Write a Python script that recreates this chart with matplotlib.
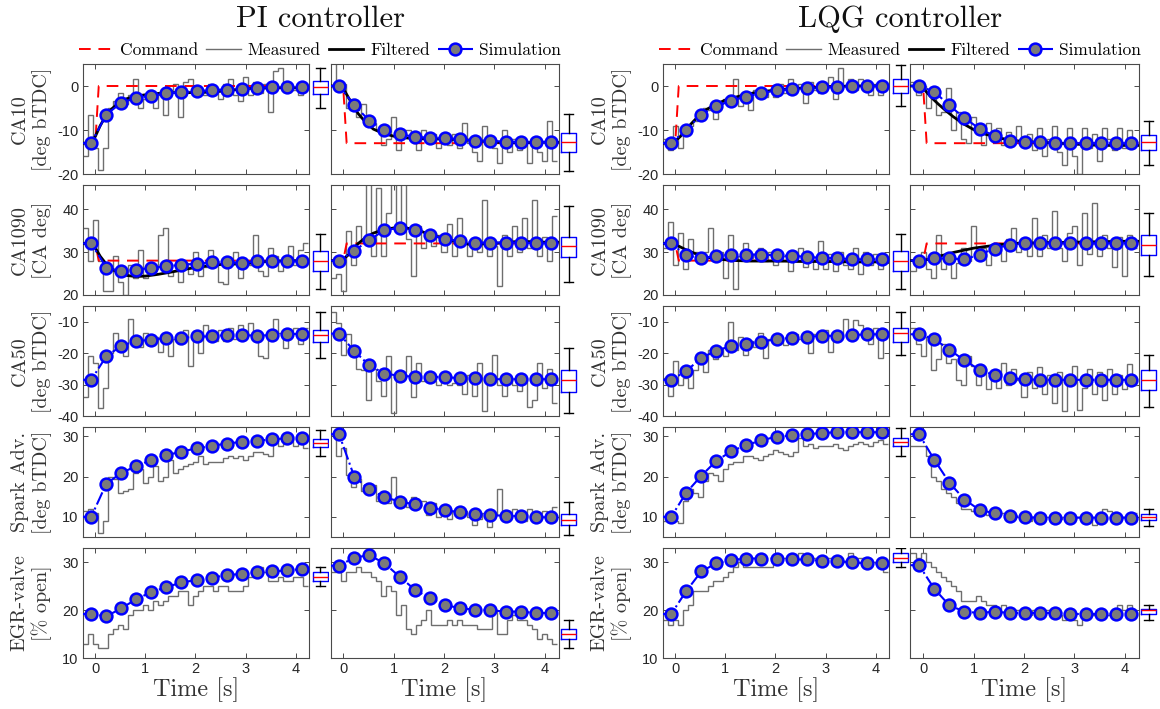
import numpy as np
import matplotlib
matplotlib.use('Agg')
import matplotlib.pyplot as plt
from matplotlib.lines import Line2D

# ---------------- data ----------------
t_sim = [-0.08, 0.22, 0.52, 0.82, 1.12, 1.42, 1.72, 2.02, 2.32, 2.62, 2.92, 3.22, 3.52, 3.82, 4.12]
t_filt = [-0.25, -0.1, 0.0, 0.1, 0.2, 0.3, 0.45, 0.6, 0.8, 1.0, 1.25, 1.5, 1.8, 2.1, 2.5, 3.0, 3.5, 4.0, 4.27]
t_cmd = [-0.25, 0.0, 0.07, 4.27]
meas_t0 = -0.25
meas_dt = 0.1

row_labels = ['CA10\n[deg bTDC]', 'CA1090\n[CA deg]', 'CA50\n[deg bTDC]',
              'Spark Adv.\n[deg bTDC]', 'EGR-valve\n[% open]']
row_ylims = [(-20, 5), (20, 45.6), (-40, -5), (5, 32.3), (10, 33)]
row_yticks = [[-20, -10, 0], [20, 30, 40], [-40, -30, -20, -10], [10, 20, 30], [10, 20, 30]]
x_ticks = [0, 1, 2, 3, 4]
controllers = ['PI controller', 'LQG controller']

cmd_ca10_a = [-13, -13, 0, 0]
cmd_ca10_b = [0, 0, -13, -13]
cmd_ca1090_a = [32, 32, 28, 28]
cmd_ca1090_b = [28, 28, 32, 32]

# ---- PI, CA10 ----
m_pi_ca10_a = [-16, -6.5, -14, -19, -14, -5, -3.5, -1.5, -4, -2, 1.5, -5, -3, -1, -5, -2, -6.5, -1, 0.5, -7,
               1, 1.5, -2, -1.5, -2, 0.5, -1, -3, 0.5, 1.5, -2, -3.5, 2, -2, 1, -1.5, 0.5, -6, 3.5, 4,
               0, -1, -1, -2, 0]
s_pi_ca10_a = [-13, -6.5, -3.8, -2.7, -2.2, -1.7, -1.4, -1.2, -0.9, -0.8, -0.6, -0.5, -0.2, -0.2, -0.2]
f_pi_ca10_a = [-13, -13, -11.5, -9, -7, -5.5, -4, -3, -2.3, -2, -1.7, -1.5, -1.5, -1.5, -1.2, -0.6, -0.4, -0.4, -0.4]
b_pi_ca10_a = [-4.9, -1.9, -0.3, 1.2, 4.0]

m_pi_ca10_b = [6, 0, 0.5, -5, -3, -7, -4, -7, -8.5, -10, -13.5, -12, -7, -14.5, -10, -10, -12, -14.5, -10, -12,
               -11, -14, -12, -13.5, -11, -14, -8.5, -13, -15, -17, -9, -13, -14, -17.5, -10, -15, -12, -14.5,
               -12.5, -17.5, -12, -15, -17, -8, -17]
s_pi_ca10_b = [0, -4.3, -7.9, -10.0, -11.0, -11.5, -11.8, -11.8, -12.1, -12.4, -12.4, -12.7, -12.7, -12.7, -12.7]
f_pi_ca10_b = [0, 0, -0.5, -2.5, -4.5, -6.3, -8.3, -9.8, -10.8, -11.4, -11.8, -12.0, -12.0, -12.1, -12.3, -12.8, -12.9, -12.8, -12.8]
b_pi_ca10_b = [-19.3, -15.1, -12.8, -10.6, -6.3]

# ---- PI, CA1090 ----
m_pi_ca1090_a = [35.5, 28, 37.5, 28, 21, 21, 29, 23, 20, 27, 24, 30.5, 24, 26, 26, 34, 35.5, 24.5, 25.5, 23,
                 27.5, 25, 30, 24.5, 26.5, 30.5, 27, 23, 22.5, 27, 30, 24, 28, 27, 34, 25.5, 24.5, 31, 29, 25.5,
                 28, 31.5, 27, 30.5, 32]
s_pi_ca1090_a = [32, 26.4, 25.5, 25.9, 26.3, 26.7, 27.0, 27.3, 27.6, 27.6, 27.5, 27.8, 27.8, 27.8, 27.8]
f_pi_ca1090_a = [32, 32, 31, 29, 27.5, 26.3, 25.2, 24.6, 24.3, 24.4, 24.8, 25.3, 26.0, 26.6, 27.1, 27.3, 27.9, 28.0, 28.0]
b_pi_ca1090_a = [21.5, 25.7, 28.0, 30.3, 34.2]

m_pi_ca1090_b = [24, 25, 21, 35, 27, 36, 32.5, 47, 29, 45, 29, 39, 47, 36, 47, 33, 24.5, 36, 31, 33,
                 31.5, 34, 30, 36.5, 29, 38, 32, 29, 33, 30, 42, 29, 31.5, 22, 34, 29, 36, 30, 38, 31,
                 42, 29, 33.5, 28, 38.5]
s_pi_ca1090_b = [28, 30.3, 32.8, 35.1, 35.6, 35.1, 34.0, 33.1, 32.5, 32.2, 32.2, 32.2, 32.2, 32.0, 32.0]
f_pi_ca1090_b = [28, 28, 28.3, 29.3, 30.7, 32.0, 33.4, 34.4, 35.2, 35.6, 35.6, 35.0, 33.8, 32.8, 31.8, 32.0, 32.5, 32.3, 32.3]
b_pi_ca1090_b = [23.0, 28.8, 31.3, 33.5, 40.7]

# ---- PI, CA50 ----
m_pi_ca50_a = [-34, -21, -23, -37.5, -31, -20, -13.5, -19, -21, -9, -16, -18, -13.5, -17.5, -15, -19.5, -14.5,
               -21, -15.5, -17, -12.5, -24, -13, -20, -11, -15.5, -16, -12.5, -16, -12, -15.5, -11, -14, -10.5,
               -15.5, -21, -21.5, -14, -9, -13.5, -18.5, -13, -12, -17, -12]
s_pi_ca50_a = [-28.5, -21.0, -17.7, -16.1, -15.8, -15.1, -15.2, -14.7, -14.7, -14.2, -14.3, -14.4, -14.3, -13.9, -13.9]
b_pi_ca50_a = [-21.5, -16.5, -14.2, -12.5, -7.0]

m_pi_ca50_b = [-7, -10.5, -20.5, -14, -20, -25, -25.5, -35, -25, -29, -33.5, -21, -39, -29, -26, -21, -34, -23,
               -29, -27, -29, -30, -27.5, -30, -29.5, -30, -33, -27, -33.5, -23, -38.5, -27, -20.5, -30, -33.5,
               -28, -30, -32, -28, -37, -35, -23, -31, -25, -36]
s_pi_ca50_b = [-13.8, -19.3, -23.9, -26.5, -27.2, -27.5, -27.6, -27.6, -28.0, -28.0, -28.3, -28.3, -28.3, -28.3, -28.3]
b_pi_ca50_b = [-39.0, -32.3, -28.7, -25.5, -18.4]

# ---- PI, Spark ----
m_pi_sa_a = [11.5, 12, 11, 6, 9, 20, 19.5, 16, 16.5, 17, 21, 22, 18.5, 20, 22.5, 19, 20, 24, 21, 22,
             22.5, 23, 23.5, 25, 23, 23.5, 23.5, 23.5, 24.5, 25, 24.5, 25, 24, 25, 26, 26, 25.5, 25, 29, 27.5,
             28, 30, 27.5, 28, 27]
s_pi_sa_a = [10, 18.2, 20.9, 22.6, 24.1, 25.3, 26.2, 27.0, 27.6, 28.2, 28.6, 28.9, 29.2, 29.5, 29.5]
b_pi_sa_a = [25.0, 27.3, 28.3, 29.3, 31.5]

m_pi_sa_b = [30.5, 25, 27, 20.5, 17.5, 19.5, 16.5, 18.5, 18, 14, 16.5, 13.5, 20, 13, 14.5, 12.5, 15, 12.5, 14,
             10.5, 13.5, 10, 12, 9.5, 11.5, 11, 11.5, 10, 8, 9.5, 11, 7.5, 10.5, 17, 10, 11, 12, 9.5, 9, 12,
             11, 11, 11.5, 10.5, 12.5]
s_pi_sa_b = [30.5, 20.0, 16.8, 14.9, 13.8, 13.1, 12.3, 11.7, 11.1, 10.8, 10.5, 10.2, 10.2, 9.9, 9.9]
b_pi_sa_b = [5.5, 8.0, 9.3, 10.7, 13.8]

# ---- PI, EGR ----
m_pi_egr_a = [13, 15, 13, 12, 12, 15, 16, 17, 16, 19, 20, 20, 21, 20, 22, 21, 22, 23, 23, 24,
              24, 21, 23, 24, 25, 25, 24, 25, 25, 24, 24, 24, 25, 27, 27, 29, 28, 26, 26, 27,
              26, 26, 27, 27, 25]
s_pi_egr_a = [19.2, 18.7, 20.4, 22.3, 23.8, 24.8, 25.8, 26.3, 26.8, 27.3, 27.6, 27.9, 28.1, 28.3, 28.6]
b_pi_egr_a = [25, 26, 27, 28, 29]

m_pi_egr_b = [28, 28, 26, 28, 28, 29, 28, 28, 27, 26, 23, 25, 24, 19, 21, 16, 15, 17, 18, 20,
              17, 17, 17, 18, 17, 18, 17, 17, 17, 16, 16, 16, 20, 15, 15, 18, 19, 18, 18, 17,
              16, 14, 15, 14, 13]
s_pi_egr_b = [29.3, 31.0, 31.5, 29.8, 27.0, 24.3, 22.5, 21.1, 20.4, 20.1, 20.0, 19.7, 19.7, 19.4, 19.4]
b_pi_egr_b = [12, 14, 15, 16, 18]

# ---- LQG, CA10 ----
m_lqg_ca10_a = [-12, -14.5, -9, -14, -10, -9, -8, -7.5, -5, -5.5, -7.5, -4, -3, -2, 1.5, -4.5, -3.5, -5.5, -1,
                -1.5, -2.5, -1, -2.5, 0.5, -1.5, 1.5, -1, 0.5, -3.8, 1, -1, -1.5, 0.5, 2, -3, 4, 0, 1.5, -1,
                1.5, 1, -2, 0.5, -2, 0]
s_lqg_ca10_a = [-13, -9.9, -6.5, -4.6, -3.3, -2.4, -1.6, -1.0, -0.7, -0.5, -0.3, -0.3, 0, 0, 0]
f_lqg_ca10_a = [-13, -13, -12.5, -11.5, -10, -8.8, -7, -5.5, -4.2, -3.2, -2.4, -1.7, -1.2, -0.8, -0.5, -0.2, 0, 0, 0]
b_lqg_ca10_a = [-4.6, -1.5, 0.0, 1.6, 4.8]

m_lqg_ca10_b = [1, -2, 0, -5, -1, -6.5, -6, -0.5, -10, -6, -12, -13, -7, -9.5, -13.5, -8.5, -12, -9.5, -13.5,
                -10.5, -12.5, -9, -13, -11, -14.5, -9.5, -16, -12, -9, -15, -18, -9.5, -16, -20, -9.5, -14,
                -11, -17, -9.5, -12, -14.5, -9.5, -14, -10, -13]
s_lqg_ca10_b = [0, -1.3, -4.4, -7.3, -9.7, -11.4, -12.4, -12.7, -12.7, -13, -13, -13, -13, -13, -13]
f_lqg_ca10_b = [0, 0, -0.5, -1.8, -3.0, -4.1, -5.6, -7.0, -8.6, -9.9, -11.0, -11.8, -12.4, -12.7, -12.9, -13.2, -13.5, -13.5, -13.5]
b_lqg_ca10_b = [-18.0, -14.5, -12.8, -11.2, -8.0]

# ---- LQG, CA1090 ----
m_lqg_ca1090_a = [31, 37, 27, 34.5, 26, 33, 30, 27.5, 30, 35.5, 28, 30, 24, 34, 21.5, 29, 32, 28.5, 29.5, 31,
                  28, 30, 27, 28, 29, 25.5, 28, 31, 26.5, 29, 26, 32.5, 26, 29.5, 25.5, 30, 27, 26, 31, 25,
                  30, 27, 29.5, 26, 29]
s_lqg_ca1090_a = [32, 29.2, 28.6, 29.1, 29.4, 29.4, 29.4, 29.2, 29.1, 28.9, 28.6, 28.6, 28.3, 28.3, 28.3]
f_lqg_ca1090_a = [32, 32, 31.7, 31.2, 30.6, 30.1, 29.4, 28.9, 28.4, 28.2, 28.0, 27.9, 27.9, 27.9, 27.8, 27.8, 27.7, 27.7, 27.6]
b_lqg_ca1090_a = [21.5, 25.6, 28.0, 30.2, 34.2]

m_lqg_ca1090_b = [25.5, 28, 30, 26, 24, 34, 26, 28, 24, 27.5, 31, 28, 36, 29, 31, 27, 30, 32, 28, 33,
                  35.5, 30, 32, 29, 38, 29, 34, 31, 39.5, 31, 28, 34.5, 36, 27, 39, 29.5, 41.5, 29, 34, 31,
                  26.5, 33.5, 24.5, 34, 31]
s_lqg_ca1090_b = [28, 28.5, 28.5, 28.3, 29.4, 30.8, 31.7, 32, 32, 32, 32, 32, 32, 32, 32]
f_lqg_ca1090_b = [28, 28, 28, 28.3, 28.7, 29.0, 29.4, 29.9, 30.4, 30.9, 31.3, 31.7, 32.0, 32.1, 32.2, 32.3, 32.4, 32.5, 32.5]
b_lqg_ca1090_b = [24.5, 29.3, 31.6, 34.0, 39.0]

# ---- LQG, CA50 ----
m_lqg_ca50_a = [-28, -33.5, -22.5, -30, -28, -31, -25.5, -22, -26, -19, -22, -18.5, -21, -10, -19, -15, -20.5,
                -16, -18, -13.5, -21.5, -15.5, -16.5, -15.5, -17.5, -16, -14, -15.5, -13.5, -20, -14, -16,
                -12.5, -19.5, -15, -14, -9, -14.5, -9.5, -11, -15.5, -17, -12, -21.5, -14]
s_lqg_ca50_a = [-28.5, -25.7, -21.5, -19.2, -17.7, -17.0, -16.3, -15.6, -15.1, -14.8, -14.5, -14.5, -14.3, -14.0, -14.0]
b_lqg_ca50_a = [-20.7, -16.6, -13.7, -12.0, -7.0]

m_lqg_ca50_b = [-12, -17, -21, -15, -25.5, -22, -17, -23, -22, -28.5, -30, -21, -24, -30, -25, -31.5, -26, -31,
                -23, -30, -25, -28.5, -34, -26, -31, -24.5, -33, -27, -36, -26, -38.5, -29, -24, -38, -31,
                -25, -33, -26, -35, -25, -33, -27, -31.5, -23.5, -30]
s_lqg_ca50_b = [-14, -15.5, -18.9, -22.3, -25.3, -27.1, -28, -28.3, -28.5, -28.5, -28.5, -28.5, -28.5, -28.5, -28.5]
b_lqg_ca50_b = [-37.2, -31.8, -28.5, -25.3, -20.5]

# ---- LQG, Spark ----
m_lqg_sa_a = [9, 11.5, 9, 8.5, 14, 17, 16, 15, 19, 21, 20.5, 19, 22, 23, 23.5, 23.5, 25, 25, 24.5, 24,
              25, 25.5, 26.5, 26, 25.5, 25, 26, 29.5, 27.5, 28, 27, 27.5, 27.5, 27.5, 28, 27, 26.5, 27.5,
              28, 28.5, 28, 27.5, 28.5, 29, 28]
s_lqg_sa_a = [10, 16, 20.2, 23.9, 26.3, 27.8, 29.0, 29.9, 30.2, 30.5, 30.8, 31, 31, 31, 31]
b_lqg_sa_a = [25.0, 27.6, 28.6, 29.5, 32.0]

m_lqg_sa_b = [27.5, 27.5, 27.5, 25, 20, 19, 17, 16, 15, 13.5, 12, 12, 11.5, 11, 11, 10.5, 11, 10.5, 11, 10.5,
              10.5, 10, 11, 9, 10, 10, 10, 10, 10, 9.5, 10, 10.5, 10, 10, 9.5, 10, 8, 10, 12, 11.5,
              9.5, 9.5, 10, 10, 11]
s_lqg_sa_b = [30.5, 24.2, 18.5, 14.3, 11.7, 10.9, 10.2, 9.9, 9.8, 9.8, 9.8, 9.8, 9.8, 9.8, 9.8]
b_lqg_sa_b = [7.8, 9.3, 10.0, 10.7, 12.0]

# ---- LQG, EGR ----
m_lqg_egr_a = [18, 17, 18, 17, 20, 21, 24, 24, 24, 25, 26, 26, 27, 28, 29, 30, 29, 29, 29, 29,
               29, 29, 31, 31, 31, 31, 31, 32, 31, 31, 31, 31, 31, 31, 31, 31, 30, 32, 31, 31,
               31, 30, 30, 31, 28]
s_lqg_egr_a = [19.2, 24.0, 28.1, 29.8, 30.5, 30.8, 30.8, 30.8, 30.6, 30.6, 30.3, 30.3, 30.0, 29.8, 29.8]
b_lqg_egr_a = [29, 30, 31, 32, 33]

m_lqg_egr_b = [32, 31, 32, 30, 29, 28, 27, 26, 25, 24, 22, 22, 22, 23, 22, 21, 21, 20, 21, 20,
               20, 20, 20, 19, 20, 20, 20, 20, 19, 19, 18, 19, 18, 17, 19, 19, 19, 19, 19, 19,
               20, 21, 20, 21, 20]
s_lqg_egr_b = [29.4, 24.5, 21.0, 19.7, 19.4, 19.7, 19.4, 19.4, 19.4, 19.4, 19.2, 19.2, 19.2, 19.2, 19.2]
b_lqg_egr_b = [18.0, 19.3, 20.0, 20.3, 21.0]

# panel table assembled from the named arrays
panels = {
    (0, 0, 0): (m_pi_ca10_a, s_pi_ca10_a, f_pi_ca10_a, cmd_ca10_a, b_pi_ca10_a),
    (0, 0, 1): (m_pi_ca10_b, s_pi_ca10_b, f_pi_ca10_b, cmd_ca10_b, b_pi_ca10_b),
    (0, 1, 0): (m_pi_ca1090_a, s_pi_ca1090_a, f_pi_ca1090_a, cmd_ca1090_a, b_pi_ca1090_a),
    (0, 1, 1): (m_pi_ca1090_b, s_pi_ca1090_b, f_pi_ca1090_b, cmd_ca1090_b, b_pi_ca1090_b),
    (0, 2, 0): (m_pi_ca50_a, s_pi_ca50_a, None, None, b_pi_ca50_a),
    (0, 2, 1): (m_pi_ca50_b, s_pi_ca50_b, None, None, b_pi_ca50_b),
    (0, 3, 0): (m_pi_sa_a, s_pi_sa_a, None, None, b_pi_sa_a),
    (0, 3, 1): (m_pi_sa_b, s_pi_sa_b, None, None, b_pi_sa_b),
    (0, 4, 0): (m_pi_egr_a, s_pi_egr_a, None, None, b_pi_egr_a),
    (0, 4, 1): (m_pi_egr_b, s_pi_egr_b, None, None, b_pi_egr_b),
    (1, 0, 0): (m_lqg_ca10_a, s_lqg_ca10_a, f_lqg_ca10_a, cmd_ca10_a, b_lqg_ca10_a),
    (1, 0, 1): (m_lqg_ca10_b, s_lqg_ca10_b, f_lqg_ca10_b, cmd_ca10_b, b_lqg_ca10_b),
    (1, 1, 0): (m_lqg_ca1090_a, s_lqg_ca1090_a, f_lqg_ca1090_a, cmd_ca1090_a, b_lqg_ca1090_a),
    (1, 1, 1): (m_lqg_ca1090_b, s_lqg_ca1090_b, f_lqg_ca1090_b, cmd_ca1090_b, b_lqg_ca1090_b),
    (1, 2, 0): (m_lqg_ca50_a, s_lqg_ca50_a, None, None, b_lqg_ca50_a),
    (1, 2, 1): (m_lqg_ca50_b, s_lqg_ca50_b, None, None, b_lqg_ca50_b),
    (1, 3, 0): (m_lqg_sa_a, s_lqg_sa_a, None, None, b_lqg_sa_a),
    (1, 3, 1): (m_lqg_sa_b, s_lqg_sa_b, None, None, b_lqg_sa_b),
    (1, 4, 0): (m_lqg_egr_a, s_lqg_egr_a, None, None, b_lqg_egr_a),
    (1, 4, 1): (m_lqg_egr_b, s_lqg_egr_b, None, None, b_lqg_egr_b),
}

# ---------------- style ----------------
plt.rcParams['font.family'] = ['Liberation Sans', 'DejaVu Sans']
plt.rcParams['axes.unicode_minus'] = False
SERIF = ['cmr10', 'DejaVu Serif']
C_MEAS = '#6e6e6e'
C_AX = '#4a4a4a'
C_TICK = '#262626'
C_SIM = '#0000ff'
C_FACE = '#7a7a7a'

W, H = 1160, 709
fig = plt.figure(figsize=(W / 100, H / 100), dpi=100)


def rect(left, top, w, h):
    return [left / W, 1 - (top + h) / H, w / W, h / H]


XL = (-0.25, 4.27)
panel_geo = [(82.7, 226.6), (330.5, 228.0)]
box_geo = [(311.5, 18.0), (559.5, 18.0)]
row_top0, row_h, row_step = 64, 110, 121

for c in range(2):
    x0 = 580 * c
    for r in range(5):
        top = row_top0 + r * row_step
        for side in range(2):
            meas, sim, filt, cmd, bstat = panels[(c, r, side)]
            pl, pw = panel_geo[side]
            ax = fig.add_axes(rect(x0 + pl, top, pw, row_h))
            edges = meas_t0 + meas_dt * np.arange(len(meas) + 1)
            ax.stairs(meas, edges, color=C_MEAS, lw=1.0, baseline=None, zorder=2)
            if cmd is not None:
                ax.plot(t_cmd, cmd, color='#ff0000', lw=1.4, dashes=(6, 4), zorder=3)
            if filt is not None:
                ax.plot(t_filt, filt, color='black', lw=2.0, zorder=4)
            ax.plot([XL[0]] + t_sim, [sim[0]] + sim, color=C_SIM, lw=1.5, ls='-.', zorder=5)
            ax.plot(t_sim, sim, ls='none', marker='o', ms=8.5, mfc=C_FACE, mec=C_SIM, mew=1.8, zorder=6)
            ax.set_xlim(*XL)
            ax.set_ylim(*row_ylims[r])
            ax.set_xticks(x_ticks)
            ax.set_yticks(row_yticks[r])
            ax.tick_params(direction='in', top=True, right=True, length=3.5, width=0.7,
                           labelsize=10.5, colors=C_AX, labelcolor=C_TICK, pad=3)
            for sp in ax.spines.values():
                sp.set_color(C_AX)
                sp.set_linewidth(0.8)
            if side == 1:
                ax.set_yticklabels([])
            else:
                ax.set_ylabel(row_labels[r], family=SERIF, fontsize=14.5, color='#333333',
                              linespacing=1.2)
                ax.yaxis.set_label_coords(-0.135, 0.5)
            if r < 4:
                ax.set_xticklabels([])
            else:
                ax.set_xlabel('Time [s]', family=SERIF, fontsize=17.5, color='#333333', labelpad=1)

            # box plot
            bl, bw = box_geo[side]
            bx = fig.add_axes(rect(x0 + bl, top, bw, row_h))
            st = dict(whislo=bstat[0], q1=bstat[1], med=bstat[2], q3=bstat[3], whishi=bstat[4],
                      fliers=[])
            bx.bxp([st], positions=[1], widths=[0.82], capwidths=[0.5], showfliers=False,
                   boxprops=dict(color=C_SIM, lw=1.0),
                   medianprops=dict(color='#ff0000', lw=1.0),
                   whiskerprops=dict(color='black', lw=1.0),
                   capprops=dict(color='black', lw=1.0))
            bx.set_xlim(0.5, 1.5)
            bx.set_ylim(*row_ylims[r])
            bx.axis('off')

    fig.text((x0 + 320) / W, 1 - 19 / H, controllers[c], family=SERIF, fontsize=22,
             ha='center', va='center', color='#111111')
    handles = [
        Line2D([], [], color='#ff0000', lw=1.4, dashes=(6, 4)),
        Line2D([], [], color=C_MEAS, lw=1.0),
        Line2D([], [], color='black', lw=2.0),
        Line2D([], [], color=C_SIM, lw=1.5, ls='-.', marker='o', ms=8.5, mfc=C_FACE, mec=C_SIM, mew=1.8),
    ]
    fig.legend(handles, ['Command', 'Measured', 'Filtered', 'Simulation'],
               loc='center', bbox_to_anchor=((x0 + 320) / W, 1 - 50 / H), ncol=4, frameon=False,
               prop=dict(family=SERIF, size=12.5), handlelength=2.0, handletextpad=0.4,
               columnspacing=0.45, borderaxespad=0)

fig.savefig('out.png', dpi=100)
